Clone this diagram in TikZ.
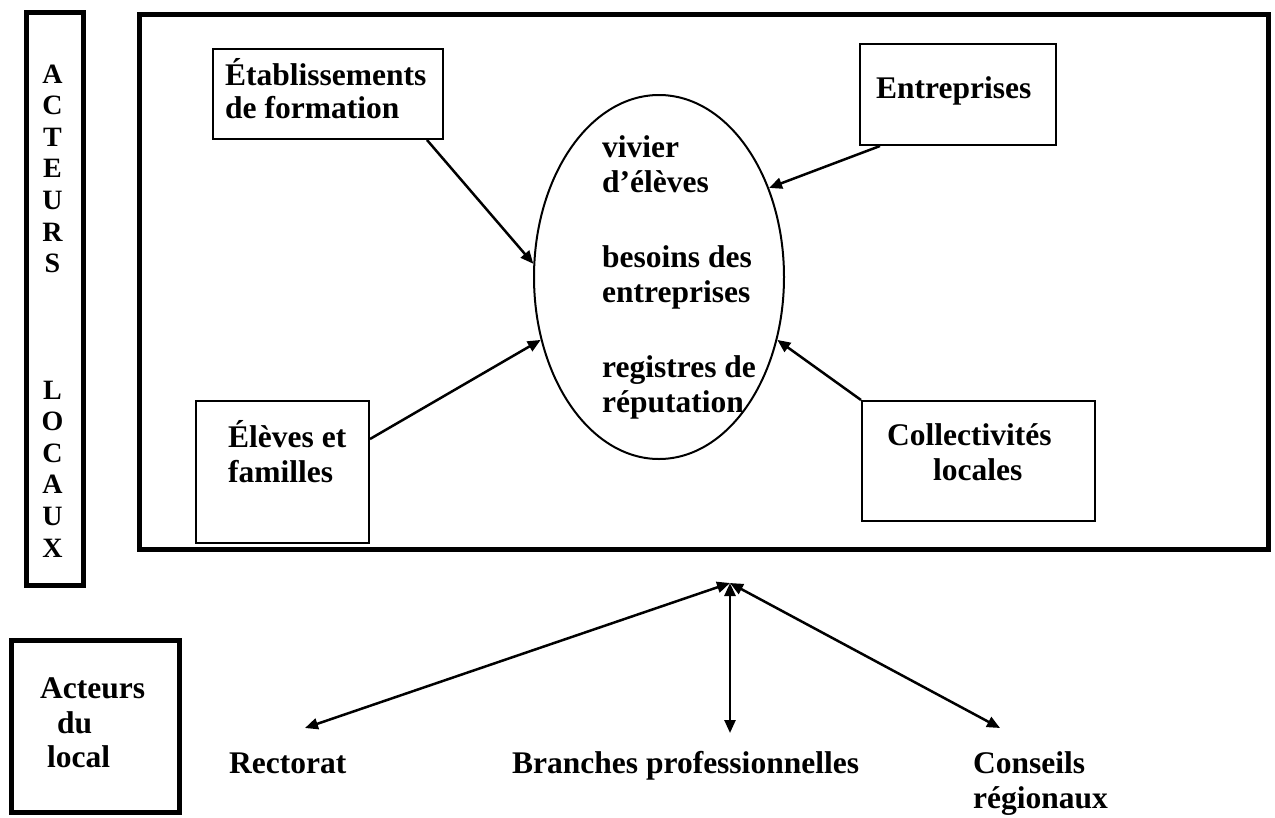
\documentclass[tikz,border=0pt]{standalone}
\usepackage{fontspec}
\setmainfont{Liberation Serif}
\usetikzlibrary{arrows.meta,calc,shapes.geometric}
\begin{document}
\begin{tikzpicture}[x=1pt,y=-1pt,
  thickbox/.style={draw, line width=4.5pt, rectangle, inner sep=0pt, anchor=north west},
  thinbox/.style={draw, line width=2pt, rectangle, inner sep=0pt, anchor=north west},
  lbl/.style={font=\fontsize{31.5}{35}\selectfont\bfseries, inner sep=0pt, anchor=base west},
  letter/.style={font=\fontsize{28}{32}\selectfont\bfseries, inner sep=0pt, anchor=base},
  conn/.style={line width=2.5pt, -{Triangle[length=13pt,width=11pt]}},
  dconn/.style={line width=2.5pt, {Triangle[length=13pt,width=11pt]}-{Triangle[length=13pt,width=11pt]}}
]
\useasboundingbox (0,0) rectangle (1275,817);

% frames
\node[thickbox, minimum width=57pt, minimum height=573pt] (lbox) at (24,10) {};
\node[thickbox, minimum width=1129pt, minimum height=535pt] (main) at (137,12) {};
\node[thickbox, minimum width=168pt, minimum height=172pt] (localbox) at (9,638) {};

% vertical title
\foreach \l/\r in {A/0,C/1,T/2,E/3,U/4,R/5,S/6,L/10,O/11,C/12,A/13,U/14,X/15}
  \node[letter] (v\r) at (52.5,{83+31.6*\r}) {\l};

% inner boxes
\node[thinbox, minimum width=230pt, minimum height=90pt] (etab) at (212,48) {};
\node[thinbox, minimum width=196pt, minimum height=101pt] (entr) at (859,43) {};
\node[thinbox, minimum width=173pt, minimum height=142pt] (eleves) at (195,400) {};
\node[thinbox, minimum width=233pt, minimum height=120pt] (coll) at (861,400) {};
\node[draw, line width=2pt, ellipse, inner sep=0pt, minimum width=250pt, minimum height=364pt] (ell) at (659,277) {};

% texts
\node[lbl] (t1) at (225,85) {Établissements};
\node[lbl] (t2) at (225,118) {de formation};
\node[lbl] (t3) at (876,98) {Entreprises};
\node[lbl] (t4) at (602,157) {vivier};
\node[lbl] (t5) at (602,192) {d’élèves};
\node[lbl] (t6) at (602,267) {besoins des};
\node[lbl] (t7) at (602,302) {entreprises};
\node[lbl] (t8) at (602,377) {registres de};
\node[lbl] (t9) at (602,412) {réputation};
\node[lbl] (t10) at (228,447) {Élèves et};
\node[lbl] (t11) at (228,482) {familles};
\node[lbl] (t12) at (887,445) {Collectivités};
\node[lbl] (t13) at (933,480) {locales};
\node[lbl] (t14) at (40,698) {Acteurs};
\node[lbl] (t15) at (57,733) {du};
\node[lbl] (t16) at (47,767) {local};
\node[lbl] (rect) at (229,773) {Rectorat};
\node[lbl] (branch) at (512,773) {Branches professionnelles};
\node[lbl] (cons) at (973,773) {Conseils};
\node[lbl] (reg) at (973,808) {régionaux};

% connectors to the ellipse
\draw[conn] ([xshift=-17pt]etab.south east) -- (ell.174);
\draw[conn] ([xshift=21pt]entr.south west) -- (ell.39);
\draw[conn] ([yshift=33pt]eleves.east) -- (ell.208);
\draw[conn] (coll.north west) -- (ell.332);

% lower connectors
\coordinate (hub) at (730,583);
\coordinate (trect) at (305,728);
\coordinate (tbranch) at (730,733);
\coordinate (tcons) at (1000,728);
\draw[dconn] (hub) -- (trect);
\draw[dconn] (hub) -- (tbranch);
\draw[dconn] (hub) -- (tcons);
\end{tikzpicture}
\end{document}
